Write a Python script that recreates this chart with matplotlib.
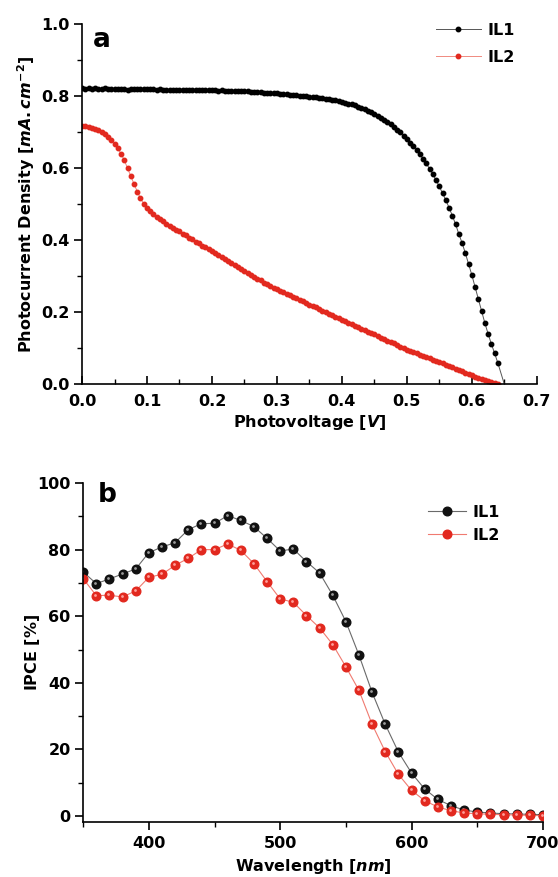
import numpy as np
import matplotlib
matplotlib.use("Agg")
import matplotlib.pyplot as plt
from matplotlib.ticker import MultipleLocator
from matplotlib.transforms import offset_copy

plt.rcParams['font.family'] = ['DejaVu Sans']
plt.rcParams['font.weight'] = 'bold'
plt.rcParams['axes.labelweight'] = 'bold'
plt.rcParams['mathtext.fontset'] = 'custom'
plt.rcParams['mathtext.it'] = 'DejaVu Sans:bold:italic'
plt.rcParams['mathtext.rm'] = 'DejaVu Sans:bold'

# ---- panel a: J-V curves (sampled every 5 mV) ----
volt_il1 = np.round(np.arange(0, 0.6501, 0.005), 3)
curr_il1 = [
    0.822, 0.821, 0.822, 0.821, 0.822, 0.821, 0.821, 0.822, 0.821, 0.820,
    0.821, 0.820, 0.821, 0.819, 0.818, 0.819, 0.819, 0.820, 0.819, 0.819,
    0.820, 0.819, 0.819, 0.818, 0.819, 0.818, 0.818, 0.817, 0.818, 0.817,
    0.817, 0.817, 0.816, 0.817, 0.816, 0.817, 0.816, 0.817, 0.818, 0.817,
    0.816, 0.816, 0.815, 0.816, 0.815, 0.815, 0.814, 0.815, 0.814, 0.813,
    0.813, 0.813, 0.812, 0.812, 0.811, 0.811, 0.810, 0.810, 0.809, 0.808,
    0.808, 0.807, 0.806, 0.805, 0.804, 0.803, 0.802, 0.801, 0.800, 0.799,
    0.798, 0.797, 0.797, 0.795, 0.794, 0.793, 0.791, 0.790, 0.788, 0.786,
    0.784, 0.782, 0.779, 0.777, 0.774, 0.771, 0.767, 0.764, 0.760, 0.755,
    0.750, 0.745, 0.740, 0.734, 0.728, 0.722, 0.715, 0.707, 0.699, 0.690,
    0.681, 0.671, 0.661, 0.650, 0.638, 0.626, 0.613, 0.598, 0.583, 0.566,
    0.549, 0.530, 0.511, 0.490, 0.468, 0.444, 0.417, 0.392, 0.364, 0.334,
    0.303, 0.270, 0.236, 0.203, 0.170, 0.140, 0.112, 0.086, 0.059, 0.030,
    0.000,
]
volt_il2 = np.round(np.arange(0, 0.6401, 0.005), 3)
curr_il2 = [
    0.718, 0.716, 0.713, 0.711, 0.709, 0.706, 0.701, 0.694, 0.686, 0.677,
    0.667, 0.655, 0.640, 0.622, 0.600, 0.578, 0.556, 0.535, 0.516, 0.501,
    0.489, 0.480, 0.472, 0.465, 0.458, 0.452, 0.446, 0.440, 0.435, 0.429,
    0.424, 0.418, 0.413, 0.407, 0.402, 0.396, 0.391, 0.385, 0.380, 0.374,
    0.369, 0.363, 0.358, 0.352, 0.347, 0.341, 0.336, 0.331, 0.325, 0.320,
    0.314, 0.309, 0.304, 0.298, 0.293, 0.288, 0.282, 0.277, 0.273, 0.268,
    0.264, 0.260, 0.256, 0.251, 0.247, 0.243, 0.238, 0.234, 0.230, 0.225,
    0.221, 0.217, 0.213, 0.208, 0.204, 0.200, 0.196, 0.191, 0.187, 0.183,
    0.179, 0.175, 0.171, 0.166, 0.162, 0.158, 0.154, 0.150, 0.146, 0.142,
    0.138, 0.134, 0.129, 0.125, 0.121, 0.117, 0.113, 0.109, 0.104, 0.100,
    0.096, 0.093, 0.089, 0.086, 0.082, 0.079, 0.075, 0.072, 0.068, 0.065,
    0.061, 0.058, 0.054, 0.051, 0.047, 0.043, 0.039, 0.036, 0.032, 0.028,
    0.024, 0.021, 0.018, 0.014, 0.011, 0.008, 0.005, 0.003, 0.001,
]

# ---- panel b: IPCE spectra ----
wavelength = [350, 360, 370, 380, 390, 400, 410, 420, 430, 440, 450, 460,
              470, 480, 490, 500, 510, 520, 530, 540, 550, 560, 570, 580,
              590, 600, 610, 620, 630, 640, 650, 660, 670, 680, 690, 700]
ipce_il1 = [73.3, 69.8, 71.2, 72.7, 74.2, 79.1, 80.8, 82.1, 86.0, 87.8, 87.9, 90.2,
            88.8, 86.9, 83.4, 79.6, 80.2, 76.4, 73.0, 66.3, 58.4, 48.3, 37.1, 27.5,
            19.2, 12.9, 8.1, 5.0, 3.1, 1.8, 1.2, 0.9, 0.7, 0.6, 0.5, 0.4]
ipce_il2 = [71.3, 66.2, 66.3, 65.8, 67.6, 71.7, 72.6, 75.3, 77.4, 80.0, 80.0, 81.7,
            79.8, 75.8, 70.4, 65.2, 64.2, 60.2, 56.5, 51.5, 44.8, 37.7, 27.5, 19.3,
            12.5, 7.7, 4.6, 2.7, 1.6, 0.9, 0.7, 0.5, 0.4, 0.3, 0.2, 0.1]

RED = '#e2291f'
FS = 11.5

fig = plt.figure(figsize=(5.58, 8.77), dpi=100)
ax1 = fig.add_axes([0.147, 0.562, 0.815, 0.4105])
ax2 = fig.add_axes([0.149, 0.0627, 0.824, 0.3865])

for ax in (ax1, ax2):
    ax.spines['top'].set_visible(False)
    ax.spines['right'].set_visible(False)
    ax.spines['left'].set_linewidth(1.2)
    ax.spines['bottom'].set_linewidth(1.2)
    ax.tick_params(labelsize=FS, width=1.2)
    ax.tick_params(which='major', length=6)
    ax.tick_params(which='minor', length=3.5, width=1.0)

# --- top panel ---
ax1.plot(volt_il1, curr_il1, color='#555555', lw=0.7, marker='o', ms=3.2,
         mfc='black', mec='black', markevery=slice(0, -2), label='IL1')
ax1.plot(volt_il2, curr_il2, color='#f08a80', lw=0.7, marker='o', ms=3.2,
         mfc=RED, mec=RED, label='IL2')
ax1.set_xlim(0, 0.7)
ax1.set_ylim(0, 1.0)
ax1.xaxis.set_major_locator(MultipleLocator(0.1))
ax1.xaxis.set_minor_locator(MultipleLocator(0.05))
ax1.yaxis.set_major_locator(MultipleLocator(0.2))
ax1.yaxis.set_minor_locator(MultipleLocator(0.1))
ax1.xaxis.set_major_formatter(lambda v, p: f'{v:.1f}')
ax1.yaxis.set_major_formatter(lambda v, p: f'{v:.1f}')
ax1.tick_params(axis='x', which='both', direction='in', pad=7)
ax1.tick_params(axis='y', which='both', direction='out', pad=3)
ax1.set_xlabel(r'Photovoltage $\mathit{[V]}$', fontsize=FS)
ax1.set_ylabel(r'Photocurrent Density $\mathit{[mA.cm^{-2}]}$', fontsize=FS)
ax1.xaxis.set_label_coords(0.5, -0.08)
ax1.yaxis.set_label_coords(-0.099, 0.5)
ax1.text(0.044, 0.955, 'a', transform=ax1.transAxes, fontsize=19,
         fontweight='bold', ha='center', va='center')
ax1.legend(loc='upper right', bbox_to_anchor=(0.965, 1.022), frameon=False,
           fontsize=FS, handlelength=2.8, handletextpad=0.4, labelspacing=0.75,
           borderaxespad=0)

# --- bottom panel: glossy balls ---
hl = offset_copy(ax2.transData, fig=fig, x=-1.0, y=1.0, units='dots')
ax2.plot(wavelength, ipce_il1, color='#6a6a6a', lw=0.8, marker='o', ms=6.2,
         mfc='#111111', mec='#111111', label='IL1')
ax2.plot(wavelength, ipce_il1, ls='none', marker='o', ms=2.0,
         mfc='#9a9a9a', mec='none', transform=hl)
ax2.plot(wavelength, ipce_il2, color='#f07a70', lw=0.8, marker='o', ms=6.2,
         mfc=RED, mec=RED, label='IL2')
ax2.plot(wavelength, ipce_il2, ls='none', marker='o', ms=2.0,
         mfc='#ff9f9a', mec='none', transform=hl)
ax2.set_xlim(350, 700)
ax2.set_ylim(-1.8, 100)
ax2.xaxis.set_major_locator(MultipleLocator(100))
ax2.xaxis.set_minor_locator(MultipleLocator(50))
ax2.yaxis.set_major_locator(MultipleLocator(20))
ax2.yaxis.set_minor_locator(MultipleLocator(10))
ax2.tick_params(axis='both', which='both', direction='out')
ax2.tick_params(axis='x', pad=4)
ax2.tick_params(axis='y', pad=3)
ax2.set_xlabel(r'Wavelength $\mathit{[nm]}$', fontsize=FS)
ax2.set_ylabel(r'IPCE $\mathit{[\%]}$', fontsize=FS)
ax2.xaxis.set_label_coords(0.5, -0.104)
ax2.yaxis.set_label_coords(-0.089, 0.5)
ax2.text(0.052, 0.965, 'b', transform=ax2.transAxes, fontsize=19,
         fontweight='bold', ha='center', va='center')
ax2.legend(loc='upper right', bbox_to_anchor=(0.92, 0.955), frameon=False,
           fontsize=FS, handlelength=2.4, handletextpad=0.4, labelspacing=0.5,
           borderaxespad=0)

fig.savefig('out.png', dpi=100)
